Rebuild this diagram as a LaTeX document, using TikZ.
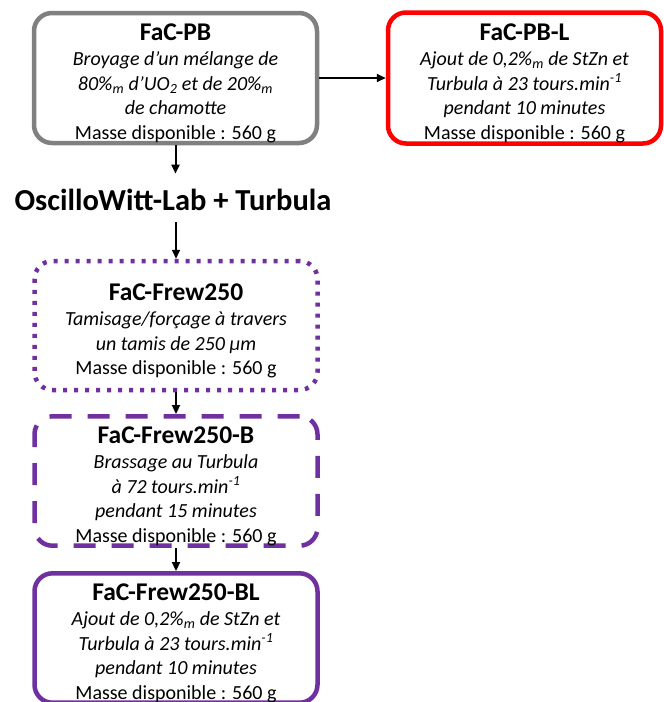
\documentclass[tikz,border=0pt]{standalone}
\usepackage{fontspec}
\setmainfont{Carlito}
\usetikzlibrary{arrows.meta, positioning}
\definecolor{labpurple}{HTML}{7030A0}

\begin{document}
\begin{tikzpicture}[x=1pt, y=-1pt,
    box/.style={rectangle, rounded corners=18pt, line width=4.5pt, minimum width=283pt,
        align=center, inner sep=0pt, font=\fontsize{20}{24.5}\selectfont},
    arr/.style={line width=2pt, -{Triangle[length=9pt, width=8pt]}}]
    \useasboundingbox (0,0) rectangle (664,702);

    % starting powder and lubricated variant
    \node[box, draw=gray, minimum height=130pt] (pb) at (175.5,78)
        {\rule{0pt}{27pt}{\fontsize{25.5}{28}\selectfont\bfseries FaC-PB}\\[1pt]
         \textit{Broyage d’un mélange de}\\
         \textit{80\%\textsubscript{m} d’UO\textsubscript{2} et de 20\%\textsubscript{m}}\\
         \textit{de chamotte}\\
         Masse disponible : 560 g};
    \node[box, draw=red, minimum width=273pt, minimum height=131pt] (pbl) at (524.5,78)
        {\rule{0pt}{27pt}{\fontsize{25.5}{28}\selectfont\bfseries FaC-PB-L}\\[1pt]
         \textit{Ajout de 0,2\%\textsubscript{m} de StZn et}\\
         \textit{Turbula à 23 tours.min\textsuperscript{-1}}\\
         \textit{pendant 10 minutes}\\
         Masse disponible : 560 g};

    % process step
    \node[font=\fontsize{30.5}{34}\selectfont\bfseries] (osc) at (173,200) {OscilloWitt-Lab + Turbula};

    % granulated powders
    \node[box, draw=labpurple, dash pattern=on 4pt off 7pt, minimum height=129pt] (frew) at (176,325.5)
        {\rule{0pt}{27pt}{\fontsize{25.5}{28}\selectfont\bfseries FaC-Frew250}\\[1pt]
         \textit{Tamisage/forçage à travers}\\
         \textit{un tamis de 250 µm}\\
         Masse disponible : 560 g};
    \node[box, draw=labpurple, dash pattern=on 22pt off 16pt, minimum height=128pt] (frewb) at (176,481)
        {\rule{0pt}{27pt}{\fontsize{25.5}{28}\selectfont\bfseries FaC-Frew250-B}\\[1pt]
         \textit{Brassage au Turbula}\\
         \textit{à 72 tours.min\textsuperscript{-1}}\\
         \textit{pendant 15 minutes}\\
         Masse disponible : 560 g};
    \node[box, draw=labpurple, minimum height=126pt] (frewbl) at (176,638)
        {\rule{0pt}{27pt}{\fontsize{25.5}{28}\selectfont\bfseries FaC-Frew250-BL}\\[1pt]
         \textit{Ajout de 0,2\%\textsubscript{m} de StZn et}\\
         \textit{Turbula à 23 tours.min\textsuperscript{-1}}\\
         \textit{pendant 10 minutes}\\
         Masse disponible : 560 g};

    % arrows
    \draw[arr] (pb) -- (pbl);
    \draw[arr, shorten >=12pt] (pb.south) -- (pb.south |- osc.north);
    \draw[arr, shorten <=8pt] (frew.north |- osc.south) -- (frew.north);
    \draw[arr] (frew) -- (frewb);
    \draw[arr] (frewb) -- (frewbl);
\end{tikzpicture}
\end{document}
